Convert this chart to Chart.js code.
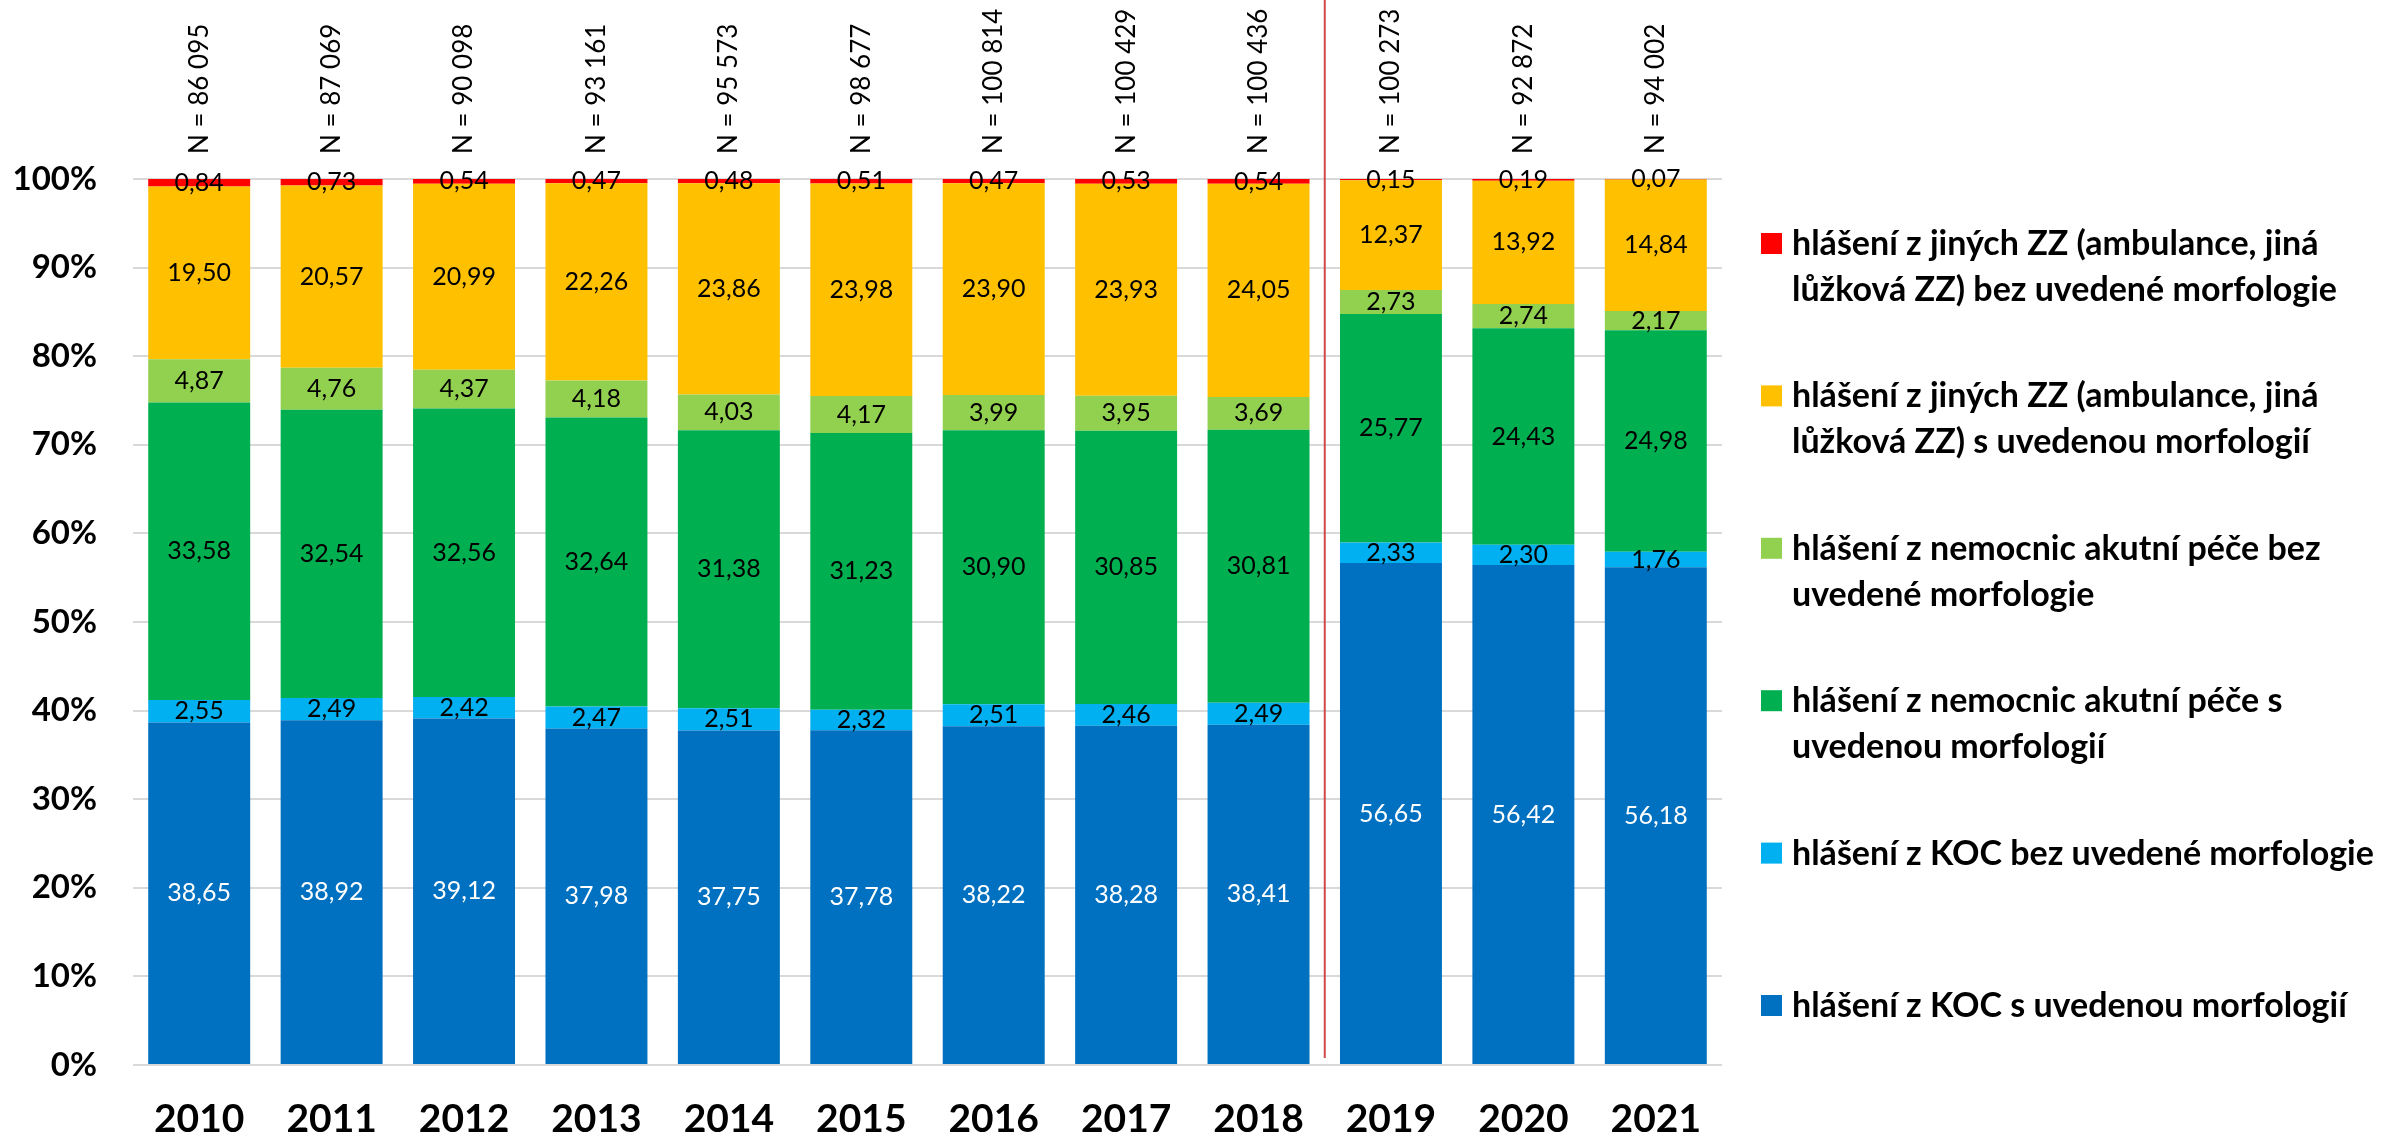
<!DOCTYPE html>
<html>
<head>
<meta charset="utf-8">
<script src="https://cdn.jsdelivr.net/npm/chart.js@4/dist/chart.umd.min.js"></script>
<style>
  body{margin:0;background:#fff;}
  #wrap{width:2394px;height:1138px;}
</style>
</head>
<body>
<div id="wrap"><canvas id="myChart" width="2394" height="1138"></canvas></div>
<script>
// years + sample sizes
const years=["2010","2011","2012","2013","2014","2015","2016","2017","2018","2019","2020","2021"];
const nCounts=[86095,87069,90098,93161,95573,98677,100814,100429,100436,100273,92872,94002];

// shares in % (bottom to top of the stack)
const kocMorf=[38.65,38.92,39.12,37.98,37.75,37.78,38.22,38.28,38.41,56.65,56.42,56.18];
const kocBez=[2.55,2.49,2.42,2.47,2.51,2.32,2.51,2.46,2.49,2.33,2.30,1.76];
const nemMorf=[33.58,32.54,32.56,32.64,31.38,31.23,30.90,30.85,30.81,25.77,24.43,24.98];
const nemBez=[4.87,4.76,4.37,4.18,4.03,4.17,3.99,3.95,3.69,2.73,2.74,2.17];
const jineMorf=[19.50,20.57,20.99,22.26,23.86,23.98,23.90,23.93,24.05,12.37,13.92,14.84];
const jineBez=[0.84,0.73,0.54,0.47,0.48,0.51,0.47,0.53,0.54,0.15,0.19,0.07];

const seriesLabels=[
    "hlášení z KOC s uvedenou morfologií",
    "hlášení z KOC bez uvedené morfologie",
    "hlášení z nemocnic akutní péče s\nuvedenou morfologií",
    "hlášení z nemocnic akutní péče bez\nuvedené morfologie",
    "hlášení z jiných ZZ (ambulance, jiná\nlůžková ZZ) s uvedenou morfologií",
    "hlášení z jiných ZZ (ambulance, jiná\nlůžková ZZ) bez uvedené morfologie",
];
const yTicks=[0,10,20,30,40,50,60,70,80,90,100];

const colors=["#0070C0","#00B0F0","#00B050","#92D050","#FFC000","#FF0000"];
const seriesData=[kocMorf,kocBez,nemMorf,nemBez,jineMorf,jineBez];

const fmt=(v)=>v.toFixed(2).replace(".",",");
const fmtN=(n)=>"N = "+Math.floor(n/1000)+" "+String(n%1000).padStart(3,"0");

// value labels centred in each segment
const segLabels={
    id:"segLabels",
    afterDatasetsDraw(chart){
        const ctx=chart.ctx;
        ctx.save();
        ctx.font="25px Lato";
        ctx.textAlign="center";
        ctx.textBaseline="middle";
        chart.data.datasets.forEach((ds,i)=>{
            const meta=chart.getDatasetMeta(i);
            meta.data.forEach((bar,j)=>{
                ctx.fillStyle=i===0?"#fff":"#000";
                ctx.fillText(fmt(ds.data[j]),bar.x,(bar.y+bar.base)/2);
            });
        });
        ctx.restore();
    }
};

// N labels on top, separator line and the legend on the right
const extras={
    id:"extras",
    afterDraw(chart){
        const ctx=chart.ctx;
        const x=chart.scales.x;
        const area=chart.chartArea;
        ctx.save();
        // N = ...
        ctx.font="26px Lato";
        ctx.fillStyle="#000";
        ctx.textAlign="left";
        ctx.textBaseline="middle";
        nCounts.forEach((n,i)=>{
            ctx.save();
            ctx.translate(x.getPixelForValue(i),154);
            ctx.rotate(-Math.PI/2);
            ctx.fillText(fmtN(n),0,0);
            ctx.restore();
        });
        // separator between 2018 and 2019
        const sx=(x.getPixelForValue(8)+x.getPixelForValue(9))/2;
        ctx.strokeStyle="#d0494a";
        ctx.lineWidth=2;
        ctx.beginPath();
        ctx.moveTo(sx,0);
        ctx.lineTo(sx,area.bottom-7);
        ctx.stroke();
        // legend
        ctx.font="bold 34px Lato";
        ctx.textBaseline="middle";
        const order=[5,4,3,2,1,0];
        order.forEach((di,k)=>{
            const y0=244+k*152.4;
            ctx.fillStyle=colors[di];
            ctx.fillRect(1761,y0-11,21,21);
            ctx.fillStyle="#000";
            seriesLabels[di].split("\n").forEach((line,li)=>{
                ctx.fillText(line,1792,y0+li*46);
            });
        });
        ctx.restore();
    }
};

const ctx=document.getElementById("myChart").getContext("2d");
const myChart=new Chart(ctx,{
    type:"bar",
    data:{
        labels:years,
        datasets:seriesData.map((d,i)=>({
            label:seriesLabels[i],
            data:d,
            backgroundColor:colors[i],
            borderWidth:0,
            barPercentage:0.77,
            categoryPercentage:1,
        })),
    },
    options:{
        responsive:false,
        animation:false,
        layout:{padding:{top:179,right:672,left:0,bottom:0}},
        plugins:{
            legend:{display:false},
            tooltip:{enabled:false},
            title:{display:false},
        },
        scales:{
            x:{
                stacked:true,
                grid:{display:false},
                border:{display:false},
                ticks:{
                    color:"#000",
                    font:{family:"Lato",weight:"bold",size:39},
                    padding:23,
                },
                afterFit:(s)=>{s.height=73;},
            },
            y:{
                stacked:true,
                min:0,
                max:100,
                afterBuildTicks:(s)=>{s.ticks=yTicks.map(v=>({value:v}));},
                grid:{color:"#d9d9d9",lineWidth:2,drawTicks:false},
                border:{display:false},
                ticks:{
                    color:"#000",
                    font:{family:"Lato",weight:"bold",size:33},
                    padding:36,
                    callback:(v)=>v+"%",
                },
                afterFit:(s)=>{s.width=133;},
            },
        },
    },
    plugins:[segLabels,extras],
});
</script>
</body>
</html>
